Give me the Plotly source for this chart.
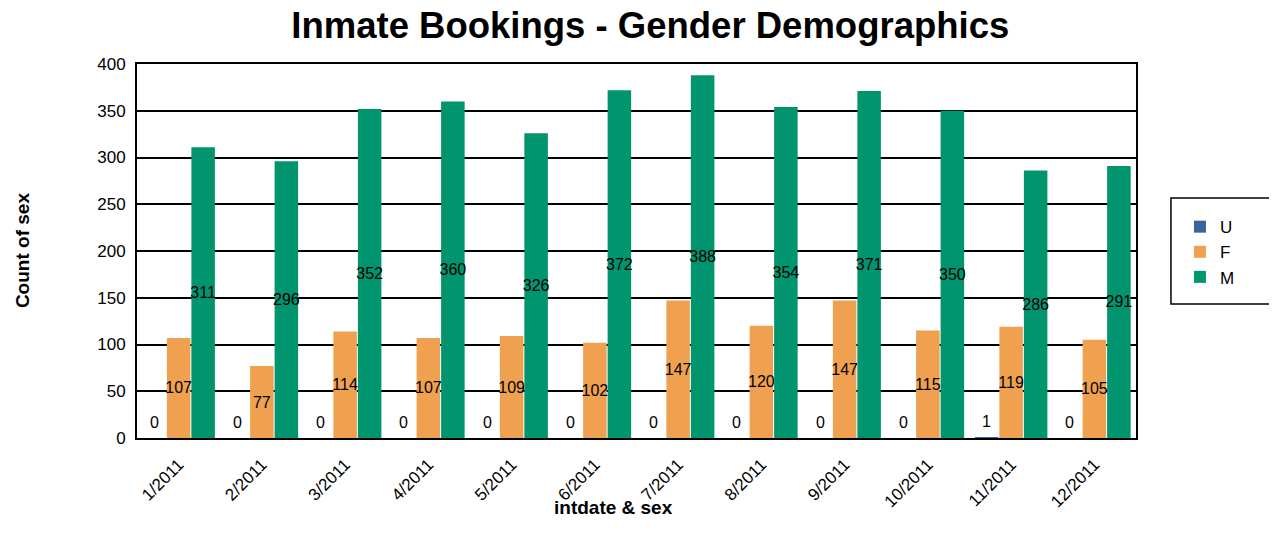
import plotly.graph_objects as go

months = ["1/2011", "2/2011", "3/2011", "4/2011", "5/2011", "6/2011",
          "7/2011", "8/2011", "9/2011", "10/2011", "11/2011", "12/2011"]
u_vals = [0, 0, 0, 0, 0, 0, 0, 0, 0, 0, 1, 0]
f_vals = [107, 77, 114, 107, 109, 102, 147, 120, 147, 115, 119, 105]
m_vals = [311, 296, 352, 360, 326, 372, 388, 354, 371, 350, 286, 291]
y_ticks = [0, 50, 100, 150, 200, 250, 300, 350, 400]

FONT = "Liberation Sans, Arial, sans-serif"
LBL = dict(size=16, color="black", family=FONT)

fig = go.Figure()
fig.add_trace(go.Bar(name="U", x=months, y=u_vals, marker_color="#3A6399",
                     marker_line_width=0))
fig.add_trace(go.Bar(name="F", x=months, y=f_vals, marker_color="#F0A150",
                     marker_line_width=0,
                     text=[str(v) for v in f_vals], textposition="inside",
                     insidetextanchor="middle", textangle=0,
                     textfont=LBL, constraintext="none"))
fig.add_trace(go.Bar(name="M", x=months, y=m_vals, marker_color="#00956E",
                     marker_line_width=0,
                     text=[str(v) for v in m_vals], textposition="inside",
                     insidetextanchor="middle", textangle=0,
                     textfont=LBL, constraintext="none"))

# labels for the U series (zero-height bars), placed over the U slot
for m, v in zip(months, u_vals):
    fig.add_annotation(x=m, y=v, text=str(v), showarrow=False,
                       xref="x", yref="y", xanchor="center", yanchor="bottom",
                       xshift=-24.5, yshift=5, font=LBL)

# axis titles
fig.add_annotation(text="<b>Count of sex</b>", xref="paper", yref="paper",
                   x=-0.115, y=0.5, xanchor="center", yanchor="middle",
                   textangle=-90, showarrow=False,
                   font=dict(size=19, family=FONT, color="black"))
fig.add_annotation(text="<b>intdate & sex</b>", xref="paper", yref="paper",
                   x=0.477, y=-0.185, xanchor="center", yanchor="middle",
                   showarrow=False,
                   font=dict(size=19, family=FONT, color="black"))

# legend frame
fig.add_shape(type="rect", xref="paper", yref="paper",
              x0=1.035, x1=1.25, y0=0.358, y1=0.642,
              line=dict(color="black", width=1.5), fillcolor="rgba(0,0,0,0)")

fig.update_layout(
    width=1277, height=548,
    barmode="group", bargap=0.117, bargroupgap=0.04,
    plot_bgcolor="white", paper_bgcolor="white",
    margin=dict(l=129, r=149, t=56, b=118, autoexpand=False),
    font=dict(family=FONT, color="black", size=17),
    title=dict(text="<b>Inmate Bookings - Gender Demographics</b>",
               x=0.503, xanchor="center", y=0.968, yanchor="middle",
               font=dict(size=36.5, family=FONT, color="black")),
    legend=dict(x=1.044, xanchor="left", y=0.612, yanchor="top",
                borderwidth=0, bgcolor="rgba(0,0,0,0)",
                font=dict(size=17, family=FONT, color="black"),
                tracegroupgap=0),
)
fig.update_xaxes(showline=True, linecolor="black", linewidth=2, mirror=True,
                 tickangle=-45, ticks="", tickfont=dict(size=17),
                 ticklabelstandoff=8, automargin=False)
fig.update_yaxes(range=[0, 400], tickvals=y_ticks, showgrid=True, gridcolor="black",
                 gridwidth=1.5, showline=True, linecolor="black", linewidth=2,
                 mirror=True, ticks="", tickfont=dict(size=17), zeroline=False,
                 ticklabelstandoff=6, automargin=False)

fig.write_html("out.html")
